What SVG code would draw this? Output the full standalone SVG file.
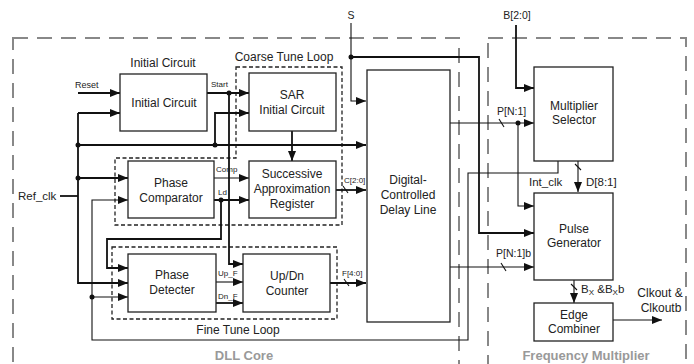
<svg xmlns="http://www.w3.org/2000/svg" width="694" height="364" viewBox="0 0 694 364">
<defs>
<marker id="ar" markerUnits="userSpaceOnUse" markerWidth="10" markerHeight="8" refX="10" refY="4" orient="auto">
<path d="M0,0 L10,4 L0,8 z" fill="#111"/>
</marker>
<style>
.box{fill:#fff;stroke:#222;stroke-width:1.3}
.t{font-family:"Liberation Sans",Arial,sans-serif;font-size:12px;fill:#222;text-anchor:middle}
.s{font-family:"Liberation Sans",Arial,sans-serif;font-size:8px;fill:#222}
.m{font-family:"Liberation Sans",Arial,sans-serif;font-size:10.5px;fill:#222}
.g{font-family:"Liberation Sans",Arial,sans-serif;font-size:13px;font-weight:bold;fill:#999;text-anchor:middle}
.reg{fill:none;stroke:#888;stroke-width:2;stroke-dasharray:15 9}
.loop{fill:none;stroke:#222;stroke-width:1.3;stroke-dasharray:4 2.5}
.w{fill:none;stroke:#111;stroke-width:1.8}
.n{fill:none;stroke:#111;stroke-width:1.1}
.a{marker-end:url(#ar)}
.d{fill:#111}
</style>
</defs>
<rect width="694" height="364" fill="#fff"/>

<g id="regions">
<rect class="reg" x="13" y="38" width="446" height="340"/>
<rect class="reg" x="488" y="38" width="198" height="340"/>
<text class="g" x="244" y="360">DLL Core</text>
<text class="g" x="586" y="360">Frequency Multiplier</text>
</g>

<g id="loops">
<path class="loop" d="M236,67 H342 V225 H115 V158 H236 Z"/>
<text class="t" x="284" y="61">Coarse Tune Loop</text>
<rect class="loop" x="112" y="247" width="225" height="72"/>
<text class="t" x="238" y="334">Fine Tune Loop</text>
</g>

<g id="connectors">
<path class="w a" d="M78,93 H120"/>
<path class="w a" d="M78,113 H120"/>
<path class="w a" d="M78,113 V283 H128"/>
<path class="w" d="M60,196 H78"/>
<path class="w a" d="M78,145 H366"/>
<path class="w a" d="M78,178 H128"/>
<path class="w a" d="M215,145 V113 H249"/>
<path class="w a" d="M207,93 H249"/>
<path class="w a" d="M229,93 V264 H243"/>
<path class="w a" d="M292,131 V161"/>
<path class="n a" d="M214,178 H249"/>
<path class="w a" d="M214,200 H249"/>
<path class="w a" d="M221,200 V239 H107 V268 H128"/>
<path class="w a" d="M336,190 H366"/>
<path class="n a" d="M558,161 V173 H468 V340 H92 V200 H128"/>
<path class="n a" d="M92,297 H128"/>
<path class="n a" d="M216,282 H243"/>
<path class="w a" d="M216,303 H243"/>
<path class="w a" d="M330,283 H366"/>
<path class="n a" d="M351,23 V101 H366"/>
<path class="w a" d="M351,57 H479 V233 H534"/>
<path class="w a" d="M516,25 V88 H534"/>
<path class="n a" d="M450,123 H534"/>
<path class="n a" d="M518,123 V206 H534"/>
<path class="n a" d="M578,161 V192"/>
<path class="n a" d="M450,267 H534"/>
<path class="n a" d="M574,280 V303"/>
<path class="n a" d="M613,320 H662"/>
<g class="n">
<path d="M343,186 L348,193"/>
<path d="M344,279 L349,286"/>
<path d="M499,119 L504,127"/>
<path d="M501,263 L506,271"/>
<path d="M575,164 L581,170"/>
<path d="M571,284 L577,290"/>
</g>
<g class="d">
<circle cx="78" cy="145" r="2.5"/>
<circle cx="78" cy="178" r="2.5"/>
<circle cx="215" cy="145" r="2.5"/>
<circle cx="229" cy="93" r="2.5"/>
<circle cx="221" cy="200" r="2.5"/>
<circle cx="351" cy="57" r="2.5"/>
<circle cx="518" cy="123" r="2.5"/>
<circle cx="92" cy="297" r="2.5"/>
</g>
<text class="s" x="75" y="88" style="font-size:9px">Reset</text>
<text class="m" x="18" y="200" style="font-size:11.5px">Ref_clk</text>
<text class="s" x="211" y="87">Start</text>
<text class="s" x="216" y="172">Comp</text>
<text class="s" x="218" y="195">Ld</text>
<text class="s" x="344" y="183">C[2:0]</text>
<text class="s" x="218" y="276">Up_F</text>
<text class="s" x="218" y="299">Dn_F</text>
<text class="s" x="342" y="276">F[4:0]</text>
<text class="m" x="351" y="19" text-anchor="middle">S</text>
<text class="m" x="517" y="19" text-anchor="middle">B[2:0]</text>
<text class="m" x="497" y="115">P[N:1]</text>
<text class="m" x="496" y="257">P[N:1]b</text>
<text class="m" x="529" y="186" style="font-size:11.5px">Int_clk</text>
<text class="m" x="586" y="186" style="font-size:11.5px">D[8:1]</text>
<text class="m" x="581" y="293" style="font-size:11.5px">B<tspan font-size="8" dy="2">X</tspan><tspan dy="-2"> &amp;B</tspan><tspan font-size="8" dy="2">X</tspan><tspan dy="-2">b</tspan></text>
<text class="t" x="660" y="297">Clkout &amp;</text>
<text class="t" x="661" y="312">Clkoutb</text>
</g>

<g id="initial-circuit">
<rect class="box" x="120" y="74" width="87" height="57"/>
<text class="t" x="163" y="67">Initial Circuit</text>
<text class="t" x="164" y="107">Initial Circuit</text>
</g>
<g id="sar-initial">
<rect class="box" x="249" y="73" width="87" height="58"/>
<text class="t" x="292" y="99">SAR</text>
<text class="t" x="292" y="114">Initial Circuit</text>
</g>
<g id="phase-comparator">
<rect class="box" x="128" y="161" width="86" height="57"/>
<text class="t" x="171" y="187">Phase</text>
<text class="t" x="171" y="202">Comparator</text>
</g>
<g id="sa-register">
<rect class="box" x="249" y="161" width="87" height="57"/>
<text class="t" x="292" y="178">Successive</text>
<text class="t" x="292" y="193">Approximation</text>
<text class="t" x="292" y="208">Register</text>
</g>
<g id="dcdl">
<rect class="box" x="367" y="70" width="83" height="252"/>
<text class="t" x="408" y="184">Digital-</text>
<text class="t" x="408" y="199">Controlled</text>
<text class="t" x="408" y="214">Delay Line</text>
</g>
<g id="phase-detecter">
<rect class="box" x="128" y="254" width="88" height="58"/>
<text class="t" x="172" y="279">Phase</text>
<text class="t" x="172" y="294">Detecter</text>
</g>
<g id="updn-counter">
<rect class="box" x="243" y="254" width="87" height="58"/>
<text class="t" x="287" y="280">Up/Dn</text>
<text class="t" x="287" y="295">Counter</text>
</g>
<g id="multiplier-selector">
<rect class="box" x="534" y="67" width="79" height="94"/>
<text class="t" x="574" y="110">Multiplier</text>
<text class="t" x="574" y="124">Selector</text>
</g>
<g id="pulse-generator">
<rect class="box" x="534" y="193" width="79" height="87"/>
<text class="t" x="574" y="233">Pulse</text>
<text class="t" x="574" y="247">Generator</text>
</g>
<g id="edge-combiner">
<rect class="box" x="534" y="303" width="79" height="38"/>
<text class="t" x="574" y="319">Edge</text>
<text class="t" x="574" y="333">Combiner</text>
</g>
</svg>
